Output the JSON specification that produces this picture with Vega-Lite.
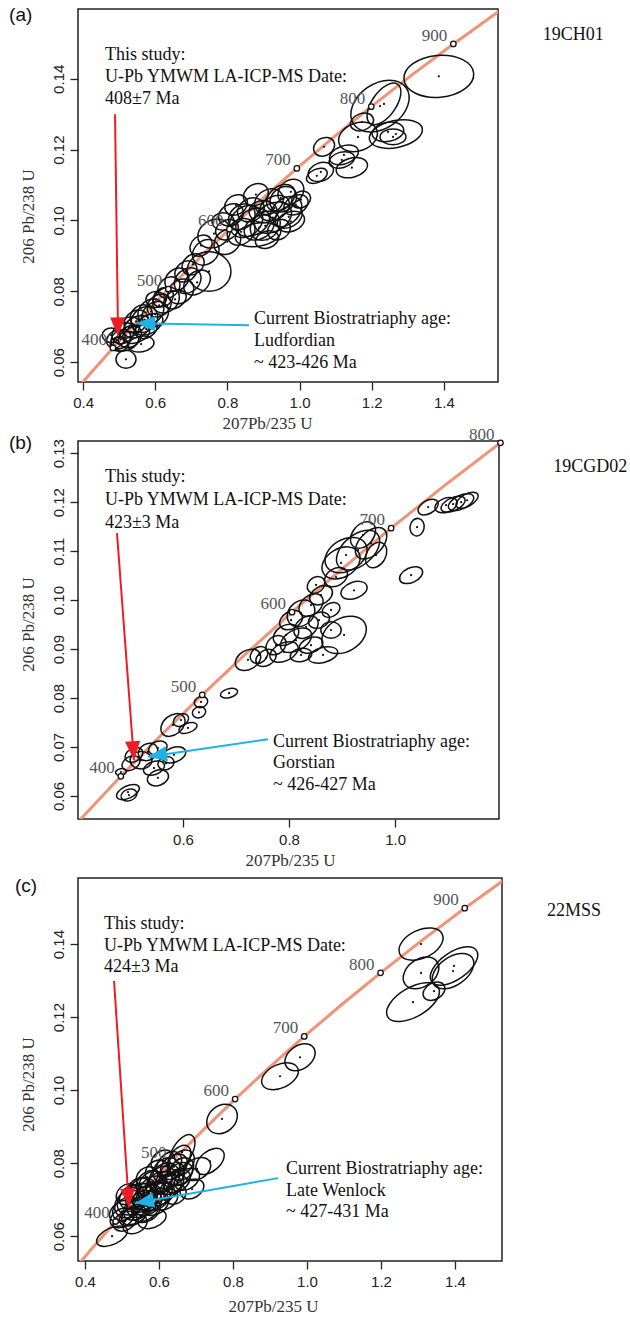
{
"$schema": "https://vega.github.io/schema/vega-lite/v6.json",
"background": "white",
"padding": {"left": 8, "top": 5, "right": 0, "bottom": 0},
"bounds": "flush",
"spacing": 59,
"config": {
 "view": {"stroke": "#222", "strokeWidth": 1.5},
 "axis": {"domain": false, "grid": false, "tickSize": 8, "tickColor": "#222", "tickWidth": 1.3, "labelFont": "Liberation Sans", "labelFontSize": 15, "labelColor": "#222", "labelFlush": false, "labelOverlap": false, "labelBound": false, "titleFont": "Liberation Serif", "titleFontSize": 17, "titleFontWeight": "normal", "titleColor": "#333"},
 "axisX": {"labelPadding": 5, "titleBaseline": "top", "titleAlign": "center"},
 "axisY": {"labelPadding": 4, "labelAngle": -90, "labelAlign": "center", "labelBaseline": "bottom", "titleAngle": -90, "titleAlign": "center", "titleBaseline": "bottom"}
},
"datasets": {
 "conc": [
  {"age": 300, "x": 0.34374, "y": 0.04764},
  {"age": 350, "x": 0.41156, "y": 0.05580},
  {"age": 400, "x": 0.48281, "y": 0.06402},
  {"age": 450, "x": 0.55766, "y": 0.07230},
  {"age": 500, "x": 0.63628, "y": 0.08065},
  {"age": 550, "x": 0.71887, "y": 0.08906},
  {"age": 600, "x": 0.80563, "y": 0.09754},
  {"age": 650, "x": 0.89677, "y": 0.10609},
  {"age": 700, "x": 0.99251, "y": 0.11470},
  {"age": 750, "x": 1.09308, "y": 0.12338},
  {"age": 800, "x": 1.19873, "y": 0.13213},
  {"age": 850, "x": 1.30971, "y": 0.14095},
  {"age": 900, "x": 1.42630, "y": 0.14983},
  {"age": 950, "x": 1.54876, "y": 0.15879},
  {"age": 1000, "x": 1.67741, "y": 0.16781}
 ],
 "ea": [
  {"x": 1.386, "y": 0.1407, "a": 0.097, "r": "0.6", "ang": 175},
  {"x": 1.223, "y": 0.1323, "a": 0.0886, "r": "0.7", "ang": 145},
  {"x": 1.234, "y": 0.1329, "a": 0.0665, "r": "0.5", "ang": 125},
  {"x": 1.173, "y": 0.1278, "a": 0.0332, "r": "0.7", "ang": 160},
  {"x": 1.162, "y": 0.1236, "a": 0.0554, "r": "0.7", "ang": 160},
  {"x": 1.267, "y": 0.1244, "a": 0.0748, "r": "0.5", "ang": 168},
  {"x": 1.245, "y": 0.125, "a": 0.0443, "r": "0.6", "ang": 170},
  {"x": 1.259, "y": 0.1236, "a": 0.036, "r": "0.6", "ang": 0},
  {"x": 1.068, "y": 0.1208, "a": 0.0305, "r": "0.8", "ang": 150},
  {"x": 1.123, "y": 0.1185, "a": 0.0416, "r": "0.6", "ang": 160},
  {"x": 1.117, "y": 0.1171, "a": 0.036, "r": "0.6", "ang": 165},
  {"x": 1.145, "y": 0.1149, "a": 0.0443, "r": "0.6", "ang": 165},
  {"x": 1.059, "y": 0.1137, "a": 0.036, "r": "0.7", "ang": 160},
  {"x": 1.048, "y": 0.1126, "a": 0.0305, "r": "0.6", "ang": 155},
  {"x": 0.976, "y": 0.1081, "a": 0.0388, "r": "0.8", "ang": 140},
  {"x": 0.948, "y": 0.1064, "a": 0.0443, "r": "0.7", "ang": 140},
  {"x": 0.915, "y": 0.1053, "a": 0.0416, "r": "0.8", "ang": 150},
  {"x": 0.99, "y": 0.1044, "a": 0.036, "r": "0.7", "ang": 150},
  {"x": 0.962, "y": 0.1025, "a": 0.0499, "r": "0.7", "ang": 140},
  {"x": 0.899, "y": 0.1025, "a": 0.0388, "r": "0.8", "ang": 0},
  {"x": 0.926, "y": 0.1008, "a": 0.0554, "r": "0.7", "ang": 150},
  {"x": 0.865, "y": 0.103, "a": 0.0388, "r": "0.8", "ang": 150},
  {"x": 0.852, "y": 0.0997, "a": 0.0499, "r": "0.8", "ang": 140},
  {"x": 0.888, "y": 0.098, "a": 0.0443, "r": "0.7", "ang": 150},
  {"x": 0.976, "y": 0.0997, "a": 0.0388, "r": "0.7", "ang": 160},
  {"x": 0.885, "y": 0.096, "a": 0.0637, "r": "0.5", "ang": 170},
  {"x": 0.838, "y": 0.0968, "a": 0.0416, "r": "0.8", "ang": 140},
  {"x": 0.81, "y": 0.1016, "a": 0.036, "r": "0.8", "ang": 150},
  {"x": 0.799, "y": 0.0974, "a": 0.0332, "r": "0.8", "ang": 150},
  {"x": 0.763, "y": 0.0963, "a": 0.0471, "r": "0.8", "ang": 150},
  {"x": 0.788, "y": 0.0997, "a": 0.0305, "r": "0.8", "ang": 0},
  {"x": 0.943, "y": 0.0974, "a": 0.0332, "r": "0.8", "ang": 150},
  {"x": 1.004, "y": 0.1059, "a": 0.0277, "r": "0.8", "ang": 150},
  {"x": 0.91, "y": 0.0946, "a": 0.0332, "r": "0.7", "ang": 160},
  {"x": 0.727, "y": 0.0929, "a": 0.0332, "r": "0.8", "ang": 140},
  {"x": 0.749, "y": 0.0856, "a": 0.0609, "r": "0.9", "ang": 0},
  {"x": 0.705, "y": 0.0876, "a": 0.0332, "r": "0.8", "ang": 140},
  {"x": 0.685, "y": 0.0856, "a": 0.0332, "r": "0.8", "ang": 140},
  {"x": 0.66, "y": 0.0833, "a": 0.036, "r": "0.8", "ang": 140},
  {"x": 0.716, "y": 0.0825, "a": 0.0416, "r": "0.7", "ang": 140},
  {"x": 0.638, "y": 0.0811, "a": 0.0332, "r": "0.8", "ang": 140},
  {"x": 0.671, "y": 0.08, "a": 0.0388, "r": "0.8", "ang": 140},
  {"x": 0.622, "y": 0.0783, "a": 0.0305, "r": "0.8", "ang": 140},
  {"x": 0.655, "y": 0.0777, "a": 0.0332, "r": "0.7", "ang": 150},
  {"x": 0.611, "y": 0.076, "a": 0.036, "r": "0.8", "ang": 140},
  {"x": 0.588, "y": 0.0743, "a": 0.0388, "r": "0.8", "ang": 140},
  {"x": 0.561, "y": 0.0732, "a": 0.0332, "r": "0.8", "ang": 140},
  {"x": 0.547, "y": 0.0715, "a": 0.036, "r": "0.8", "ang": 140},
  {"x": 0.583, "y": 0.0707, "a": 0.0416, "r": "0.6", "ang": 150},
  {"x": 0.527, "y": 0.0698, "a": 0.0332, "r": "0.8", "ang": 140},
  {"x": 0.511, "y": 0.0682, "a": 0.0332, "r": "0.8", "ang": 140},
  {"x": 0.547, "y": 0.0679, "a": 0.0388, "r": "0.6", "ang": 160},
  {"x": 0.491, "y": 0.0665, "a": 0.0277, "r": "0.8", "ang": 140},
  {"x": 0.519, "y": 0.0659, "a": 0.036, "r": "0.7", "ang": 160},
  {"x": 0.561, "y": 0.0651, "a": 0.036, "r": "0.6", "ang": 170},
  {"x": 0.519, "y": 0.0608, "a": 0.0277, "r": "0.9", "ang": 0},
  {"x": 0.5, "y": 0.0651, "a": 0.0249, "r": "0.8", "ang": 0},
  {"x": 0.602, "y": 0.0777, "a": 0.0277, "r": "0.8", "ang": 0},
  {"x": 0.824, "y": 0.1044, "a": 0.0332, "r": "0.8", "ang": 150},
  {"x": 0.879, "y": 0.1073, "a": 0.036, "r": "0.8", "ang": 150},
  {"x": 0.478, "y": 0.0676, "a": 0.0249, "r": "0.8", "ang": 0},
  {"x": 0.575, "y": 0.0693, "a": 0.0332, "r": "0.7", "ang": 150},
  {"x": 0.93, "y": 0.1035, "a": 0.045, "r": "0.7", "ang": 150},
  {"x": 0.955, "y": 0.106, "a": 0.04, "r": "0.8", "ang": 140},
  {"x": 0.87, "y": 0.0995, "a": 0.05, "r": "0.7", "ang": 150},
  {"x": 0.905, "y": 0.0985, "a": 0.045, "r": "0.8", "ang": 140},
  {"x": 0.84, "y": 0.101, "a": 0.04, "r": "0.8", "ang": 140},
  {"x": 0.97, "y": 0.101, "a": 0.04, "r": "0.7", "ang": 150},
  {"x": 0.8, "y": 0.094, "a": 0.04, "r": "0.8", "ang": 140},
  {"x": 0.74, "y": 0.091, "a": 0.04, "r": "0.8", "ang": 140},
  {"x": 0.69, "y": 0.083, "a": 0.04, "r": "0.8", "ang": 140},
  {"x": 0.63, "y": 0.0775, "a": 0.04, "r": "0.8", "ang": 140},
  {"x": 0.6, "y": 0.0735, "a": 0.04, "r": "0.8", "ang": 140},
  {"x": 0.55, "y": 0.07, "a": 0.04, "r": "0.7", "ang": 150},
  {"x": 0.53, "y": 0.0672, "a": 0.035, "r": "0.8", "ang": 140},
  {"x": 0.505, "y": 0.0665, "a": 0.03, "r": "0.8", "ang": 140},
  {"x": 0.57, "y": 0.072, "a": 0.04, "r": "0.8", "ang": 140}
 ],
 "eb": [
  {"x": 1.1245, "y": 0.12, "a": 0.0377, "r": "0.5", "ang": 155},
  {"x": 1.1094, "y": 0.1196, "a": 0.0358, "r": "0.5", "ang": 155},
  {"x": 1.1358, "y": 0.1204, "a": 0.034, "r": "0.5", "ang": 150},
  {"x": 1.0962, "y": 0.1194, "a": 0.0321, "r": "0.6", "ang": 160},
  {"x": 1.0623, "y": 0.119, "a": 0.0302, "r": "0.6", "ang": 150},
  {"x": 1.0415, "y": 0.1149, "a": 0.0245, "r": "0.8", "ang": 100},
  {"x": 1.0302, "y": 0.1051, "a": 0.034, "r": "0.6", "ang": 155},
  {"x": 0.9302, "y": 0.1102, "a": 0.0698, "r": "0.6", "ang": 140},
  {"x": 0.9075, "y": 0.1092, "a": 0.0623, "r": "0.7", "ang": 150},
  {"x": 0.9547, "y": 0.1116, "a": 0.0528, "r": "0.6", "ang": 135},
  {"x": 0.8981, "y": 0.1076, "a": 0.0566, "r": "0.7", "ang": 150},
  {"x": 0.9642, "y": 0.1092, "a": 0.0377, "r": "0.7", "ang": 120},
  {"x": 0.9396, "y": 0.1133, "a": 0.0415, "r": "0.7", "ang": 130},
  {"x": 0.9226, "y": 0.102, "a": 0.0377, "r": "0.6", "ang": 160},
  {"x": 0.8887, "y": 0.1047, "a": 0.034, "r": "0.7", "ang": 150},
  {"x": 0.9038, "y": 0.0929, "a": 0.066, "r": "0.7", "ang": 150},
  {"x": 0.8604, "y": 0.101, "a": 0.034, "r": "0.7", "ang": 150},
  {"x": 0.8415, "y": 0.099, "a": 0.0377, "r": "0.7", "ang": 140},
  {"x": 0.8226, "y": 0.0973, "a": 0.0415, "r": "0.8", "ang": 140},
  {"x": 0.8038, "y": 0.0959, "a": 0.034, "r": "0.7", "ang": 150},
  {"x": 0.8566, "y": 0.0959, "a": 0.0302, "r": "0.7", "ang": 160},
  {"x": 0.8321, "y": 0.0945, "a": 0.0377, "r": "0.7", "ang": 140},
  {"x": 0.7943, "y": 0.0929, "a": 0.0377, "r": "0.7", "ang": 150},
  {"x": 0.8132, "y": 0.0918, "a": 0.0472, "r": "0.6", "ang": 150},
  {"x": 0.7755, "y": 0.0908, "a": 0.0302, "r": "0.8", "ang": 140},
  {"x": 0.8415, "y": 0.0908, "a": 0.034, "r": "0.6", "ang": 160},
  {"x": 0.8642, "y": 0.0888, "a": 0.0415, "r": "0.5", "ang": 165},
  {"x": 0.7906, "y": 0.0894, "a": 0.0415, "r": "0.6", "ang": 155},
  {"x": 0.7566, "y": 0.0882, "a": 0.0302, "r": "0.7", "ang": 150},
  {"x": 0.7226, "y": 0.0878, "a": 0.0377, "r": "0.7", "ang": 150},
  {"x": 0.7434, "y": 0.0888, "a": 0.0264, "r": "0.8", "ang": 140},
  {"x": 0.8226, "y": 0.0888, "a": 0.0302, "r": "0.6", "ang": 170},
  {"x": 0.8792, "y": 0.098, "a": 0.0264, "r": "0.7", "ang": 150},
  {"x": 0.8792, "y": 0.0939, "a": 0.0283, "r": "0.8", "ang": 0},
  {"x": 0.8509, "y": 0.1031, "a": 0.0264, "r": "0.8", "ang": 140},
  {"x": 0.6868, "y": 0.081, "a": 0.0245, "r": "0.5", "ang": 165},
  {"x": 0.634, "y": 0.0792, "a": 0.0189, "r": "0.8", "ang": 160},
  {"x": 0.6302, "y": 0.0771, "a": 0.0189, "r": "0.8", "ang": 160},
  {"x": 0.5811, "y": 0.0745, "a": 0.0377, "r": "0.7", "ang": 140},
  {"x": 0.6094, "y": 0.0739, "a": 0.0264, "r": "0.5", "ang": 160},
  {"x": 0.5962, "y": 0.0755, "a": 0.0226, "r": "0.7", "ang": 150},
  {"x": 0.5075, "y": 0.0684, "a": 0.0264, "r": "0.7", "ang": 150},
  {"x": 0.534, "y": 0.069, "a": 0.0283, "r": "0.8", "ang": 150},
  {"x": 0.5528, "y": 0.0698, "a": 0.0264, "r": "0.7", "ang": 160},
  {"x": 0.583, "y": 0.0684, "a": 0.034, "r": "0.6", "ang": 160},
  {"x": 0.5019, "y": 0.0667, "a": 0.0264, "r": "0.7", "ang": 150},
  {"x": 0.5453, "y": 0.0657, "a": 0.0302, "r": "0.6", "ang": 160},
  {"x": 0.5528, "y": 0.0637, "a": 0.0302, "r": "0.7", "ang": 160},
  {"x": 0.483, "y": 0.0649, "a": 0.0151, "r": "0.6", "ang": 170},
  {"x": 0.4962, "y": 0.0608, "a": 0.034, "r": "0.5", "ang": 155},
  {"x": 0.4981, "y": 0.0602, "a": 0.0226, "r": "0.7", "ang": 160},
  {"x": 0.5208, "y": 0.0673, "a": 0.0302, "r": "0.8", "ang": 0},
  {"x": 0.5679, "y": 0.0667, "a": 0.0226, "r": "0.8", "ang": 160}
 ],
 "ec": [
  {"x": 1.3081, "y": 0.14, "a": 0.0649, "r": "0.6", "ang": 155},
  {"x": 1.3081, "y": 0.1321, "a": 0.0541, "r": "0.7", "ang": 145},
  {"x": 1.3973, "y": 0.134, "a": 0.0757, "r": "0.5", "ang": 145},
  {"x": 1.3946, "y": 0.1326, "a": 0.0649, "r": "0.6", "ang": 145},
  {"x": 1.3432, "y": 0.1271, "a": 0.0324, "r": "0.7", "ang": 150},
  {"x": 1.2865, "y": 0.1241, "a": 0.0811, "r": "0.5", "ang": 150},
  {"x": 0.927, "y": 0.1038, "a": 0.0541, "r": "0.6", "ang": 155},
  {"x": 0.9811, "y": 0.109, "a": 0.0459, "r": "0.7", "ang": 145},
  {"x": 0.7703, "y": 0.0921, "a": 0.0459, "r": "0.8", "ang": 140},
  {"x": 0.7378, "y": 0.0805, "a": 0.0459, "r": "0.6", "ang": 140},
  {"x": 0.6622, "y": 0.083, "a": 0.0541, "r": "0.5", "ang": 120},
  {"x": 0.7027, "y": 0.0784, "a": 0.0405, "r": "0.7", "ang": 150},
  {"x": 0.473, "y": 0.06, "a": 0.0459, "r": "0.5", "ang": 155},
  {"x": 0.5, "y": 0.0668, "a": 0.0378, "r": "0.7", "ang": 145},
  {"x": 0.5189, "y": 0.0688, "a": 0.0432, "r": "0.8", "ang": 140},
  {"x": 0.5081, "y": 0.0641, "a": 0.0351, "r": "0.7", "ang": 150},
  {"x": 0.5351, "y": 0.066, "a": 0.0405, "r": "0.6", "ang": 150},
  {"x": 0.527, "y": 0.0707, "a": 0.0378, "r": "0.8", "ang": 140},
  {"x": 0.5541, "y": 0.0688, "a": 0.0459, "r": "0.7", "ang": 145},
  {"x": 0.5459, "y": 0.0729, "a": 0.0351, "r": "0.8", "ang": 140},
  {"x": 0.5676, "y": 0.0707, "a": 0.0432, "r": "0.7", "ang": 145},
  {"x": 0.5811, "y": 0.0742, "a": 0.0405, "r": "0.8", "ang": 140},
  {"x": 0.5622, "y": 0.0666, "a": 0.0378, "r": "0.6", "ang": 155},
  {"x": 0.5946, "y": 0.0715, "a": 0.0459, "r": "0.7", "ang": 145},
  {"x": 0.6081, "y": 0.0756, "a": 0.0405, "r": "0.8", "ang": 140},
  {"x": 0.5892, "y": 0.0688, "a": 0.0405, "r": "0.7", "ang": 150},
  {"x": 0.6216, "y": 0.0734, "a": 0.0432, "r": "0.7", "ang": 145},
  {"x": 0.6351, "y": 0.077, "a": 0.0378, "r": "0.8", "ang": 140},
  {"x": 0.6162, "y": 0.0701, "a": 0.0378, "r": "0.7", "ang": 150},
  {"x": 0.6486, "y": 0.0751, "a": 0.0405, "r": "0.7", "ang": 145},
  {"x": 0.6622, "y": 0.0784, "a": 0.0351, "r": "0.8", "ang": 140},
  {"x": 0.6432, "y": 0.0715, "a": 0.0324, "r": "0.8", "ang": 150},
  {"x": 0.6757, "y": 0.0756, "a": 0.0378, "r": "0.7", "ang": 145},
  {"x": 0.5946, "y": 0.0778, "a": 0.0351, "r": "0.8", "ang": 140},
  {"x": 0.627, "y": 0.0797, "a": 0.0405, "r": "0.7", "ang": 135},
  {"x": 0.5676, "y": 0.0762, "a": 0.0324, "r": "0.8", "ang": 140},
  {"x": 0.5351, "y": 0.0633, "a": 0.0351, "r": "0.7", "ang": 155},
  {"x": 0.5811, "y": 0.0647, "a": 0.0405, "r": "0.6", "ang": 160},
  {"x": 0.5135, "y": 0.0715, "a": 0.0324, "r": "0.8", "ang": 140},
  {"x": 0.6541, "y": 0.0811, "a": 0.0432, "r": "0.6", "ang": 125},
  {"x": 0.6892, "y": 0.0729, "a": 0.0351, "r": "0.7", "ang": 150},
  {"x": 0.51, "y": 0.0675, "a": 0.04, "r": "0.7", "ang": 145},
  {"x": 0.525, "y": 0.0695, "a": 0.042, "r": "0.8", "ang": 140},
  {"x": 0.54, "y": 0.0675, "a": 0.04, "r": "0.7", "ang": 150},
  {"x": 0.555, "y": 0.0705, "a": 0.045, "r": "0.8", "ang": 140},
  {"x": 0.57, "y": 0.069, "a": 0.042, "r": "0.7", "ang": 145},
  {"x": 0.585, "y": 0.0725, "a": 0.045, "r": "0.8", "ang": 140},
  {"x": 0.6, "y": 0.0745, "a": 0.04, "r": "0.7", "ang": 145},
  {"x": 0.615, "y": 0.076, "a": 0.045, "r": "0.8", "ang": 140},
  {"x": 0.63, "y": 0.0745, "a": 0.04, "r": "0.7", "ang": 150},
  {"x": 0.605, "y": 0.0715, "a": 0.04, "r": "0.7", "ang": 150},
  {"x": 0.59, "y": 0.07, "a": 0.045, "r": "0.6", "ang": 150},
  {"x": 0.62, "y": 0.078, "a": 0.04, "r": "0.8", "ang": 140},
  {"x": 0.64, "y": 0.079, "a": 0.042, "r": "0.7", "ang": 140},
  {"x": 0.655, "y": 0.077, "a": 0.04, "r": "0.7", "ang": 145},
  {"x": 0.575, "y": 0.0745, "a": 0.04, "r": "0.8", "ang": 140},
  {"x": 0.555, "y": 0.0725, "a": 0.04, "r": "0.8", "ang": 140},
  {"x": 0.53, "y": 0.0655, "a": 0.04, "r": "0.6", "ang": 155},
  {"x": 0.565, "y": 0.067, "a": 0.042, "r": "0.7", "ang": 150},
  {"x": 0.545, "y": 0.071, "a": 0.04, "r": "0.8", "ang": 140},
  {"x": 0.5, "y": 0.065, "a": 0.035, "r": "0.7", "ang": 150},
  {"x": 0.66, "y": 0.08, "a": 0.042, "r": "0.7", "ang": 135},
  {"x": 0.61, "y": 0.0805, "a": 0.035, "r": "0.8", "ang": 140}
 ],
 "arrows": [
  {"p": "a", "kind": "study", "sx": 0.4886, "sy": 0.13, "x": 0.497, "y": 0.0673, "hang": 359},
  {"p": "a", "kind": "bio", "sx": 0.8598, "sy": 0.0704, "x": 0.5468, "y": 0.071, "hang": 91},
  {"p": "b", "kind": "study", "sx": 0.4755, "sy": 0.1137, "x": 0.5075, "y": 0.0673, "hang": 356},
  {"p": "b", "kind": "bio", "sx": 0.7604, "sy": 0.0716, "x": 0.534, "y": 0.068, "hang": 81},
  {"p": "c", "kind": "study", "sx": 0.4784, "sy": 0.1299, "x": 0.5189, "y": 0.0679, "hang": 356},
  {"p": "c", "kind": "bio", "sx": 0.9216, "sy": 0.0759, "x": 0.5351, "y": 0.069, "hang": 80}
 ],
 "notes": [
  {"p": "a", "x": 0.461, "y": 0.1466, "t": "This study:"},
  {"p": "a", "x": 0.461, "y": 0.1405, "t": "U-Pb YMWM LA-ICP-MS Date:"},
  {"p": "a", "x": 0.461, "y": 0.1343, "t": "408±7 Ma"},
  {"p": "a", "x": 0.8737, "y": 0.0721, "t": "Current Biostratriaphy age:"},
  {"p": "a", "x": 0.8737, "y": 0.0659, "t": "Ludfordian"},
  {"p": "a", "x": 0.8737, "y": 0.0597, "t": "~ 423-426 Ma"},
  {"p": "a", "x": 1.6742, "y": 0.1523, "t": "19CH01"},
  {"p": "b", "x": 0.4528, "y": 0.1251, "t": "This study:"},
  {"p": "b", "x": 0.4528, "y": 0.1204, "t": "U-Pb YMWM LA-ICP-MS Date:"},
  {"p": "b", "x": 0.4528, "y": 0.1157, "t": "423±3 Ma"},
  {"p": "b", "x": 0.7698, "y": 0.071, "t": "Current Biostratriaphy age:"},
  {"p": "b", "x": 0.7698, "y": 0.0667, "t": "Gorstian"},
  {"p": "b", "x": 0.7698, "y": 0.0622, "t": "~ 426-427 Ma"},
  {"p": "b", "x": 1.2981, "y": 0.1271, "t": "19CGD02"},
  {"p": "c", "x": 0.4514, "y": 0.1455, "t": "This study:"},
  {"p": "c", "x": 0.4514, "y": 0.1395, "t": "U-Pb YMWM LA-ICP-MS Date:"},
  {"p": "c", "x": 0.4514, "y": 0.1337, "t": "424±3 Ma"},
  {"p": "c", "x": 0.9432, "y": 0.0784, "t": "Current Biostratriaphy age:"},
  {"p": "c", "x": 0.9432, "y": 0.0723, "t": "Late Wenlock"},
  {"p": "c", "x": 0.9432, "y": 0.0666, "t": "~ 427-431 Ma"},
  {"p": "c", "x": 1.6486, "y": 0.149, "t": "22MSS"}
 ],
 "plabs": [
  {"p": "a", "x": 0.195, "y": 0.1579, "t": "(a)"},
  {"p": "b", "x": 0.2717, "y": 0.132, "t": "(b)"},
  {"p": "c", "x": 0.2108, "y": 0.1559, "t": "(c)"}
 ]
},
"vconcat": [
 {
  "width": 420, "height": 373,
  "encoding": {
   "x": {"field": "x", "type": "quantitative", "scale": {"domain": [0.386, 1.55], "nice": false, "zero": false}, "axis": {"title": "207Pb/235 U", "values": [0.4, 0.6, 0.8, 1.0, 1.2, 1.4], "format": ".1f", "titleX": 189, "titleY": 33}},
   "y": {"field": "y", "type": "quantitative", "scale": {"domain": [0.0544, 0.1597], "nice": false, "zero": false}, "axis": {"title": "206 Pb/238 U", "values": [0.06, 0.08, 0.1, 0.12, 0.14], "format": ".2f", "titleX": -41, "titleY": 207}}
  },
  "layer": [
   {"data": {"name": "conc"}, "mark": {"type": "line", "clip": true, "color": "#ef9476", "strokeWidth": 3}, "encoding": {}},
   {"data": {"name": "ea"}, "mark": {"type": "point", "filled": false, "color": "#111", "strokeWidth": 1.5, "opacity": 1},
    "encoding": {
     "shape": {"field": "r", "type": "nominal", "legend": null, "scale": {"domain": ["0.4", "0.5", "0.6", "0.7", "0.8", "0.9"], "range": [
      "M-1,0C-1,-0.2209,-0.5523,-0.4,0,-0.4C0.5523,-0.4,1,-0.2209,1,0C1,0.2209,0.5523,0.4,0,0.4C-0.5523,0.4,-1,0.2209,-1,0Z",
      "M-1,0C-1,-0.2762,-0.5523,-0.5,0,-0.5C0.5523,-0.5,1,-0.2762,1,0C1,0.2762,0.5523,0.5,0,0.5C-0.5523,0.5,-1,0.2762,-1,0Z",
      "M-1,0C-1,-0.3314,-0.5523,-0.6,0,-0.6C0.5523,-0.6,1,-0.3314,1,0C1,0.3314,0.5523,0.6,0,0.6C-0.5523,0.6,-1,0.3314,-1,0Z",
      "M-1,0C-1,-0.3866,-0.5523,-0.7,0,-0.7C0.5523,-0.7,1,-0.3866,1,0C1,0.3866,0.5523,0.7,0,0.7C-0.5523,0.7,-1,0.3866,-1,0Z",
      "M-1,0C-1,-0.4418,-0.5523,-0.8,0,-0.8C0.5523,-0.8,1,-0.4418,1,0C1,0.4418,0.5523,0.8,0,0.8C-0.5523,0.8,-1,0.4418,-1,0Z",
      "M-1,0C-1,-0.4971,-0.5523,-0.9,0,-0.9C0.5523,-0.9,1,-0.4971,1,0C1,0.4971,0.5523,0.9,0,0.9C-0.5523,0.9,-1,0.4971,-1,0Z"]}},
     "size": {"field": "a", "type": "quantitative", "legend": null, "scale": {"type": "pow", "exponent": 2, "domain": [0, 0.1], "range": [0, 5207]}},
     "angle": {"field": "ang", "type": "quantitative", "legend": null, "scale": {"domain": [0, 360], "range": [0, 360]}}
    }},
   {"data": {"name": "ea"}, "mark": {"type": "point", "filled": true, "color": "#111", "size": 5, "opacity": 1, "shape": "circle", "strokeWidth": 0}, "encoding": {}},
   {"data": {"name": "conc"}, "transform": [{"filter": {"field": "age", "oneOf": [400, 500, 600, 700, 800, 900]}}], "mark": {"type": "point", "filled": true, "fill": "white", "stroke": "#111", "strokeWidth": 1.3, "size": 30, "opacity": 1, "shape": "circle"}, "encoding": {}},
   {"data": {"name": "conc"}, "transform": [{"filter": {"field": "age", "oneOf": [400, 500, 600, 700, 800, 900]}}], "mark": {"type": "text", "align": "right", "baseline": "middle", "dx": -6, "dy": -8, "font": "Liberation Serif", "fontSize": 17, "color": "#555"}, "encoding": {"text": {"field": "age", "type": "nominal"}}},
   {"data": {"name": "arrows"}, "transform": [{"filter": "datum.p == 'a'"}], "mark": {"type": "rule", "strokeWidth": 2},
    "encoding": {"x2": {"field": "sx"}, "y2": {"field": "sy"}, "color": {"field": "kind", "type": "nominal", "legend": null, "scale": {"domain": ["study", "bio"], "range": ["#ee1d23", "#1fb2e8"]}}}},
   {"data": {"name": "arrows"}, "transform": [{"filter": "datum.p == 'a'"}], "mark": {"type": "point", "shape": "M0,0L-0.4,-1L0.4,-1Z", "filled": true, "size": 1444, "opacity": 1, "strokeWidth": 0},
    "encoding": {"angle": {"field": "hang", "type": "quantitative", "legend": null, "scale": {"domain": [0, 360], "range": [0, 360]}}, "color": {"field": "kind", "type": "nominal", "legend": null, "scale": {"domain": ["study", "bio"], "range": ["#ee1d23", "#1fb2e8"]}}}},
   {"data": {"name": "notes"}, "transform": [{"filter": "datum.p == 'a'"}], "mark": {"type": "text", "align": "left", "baseline": "middle", "font": "Liberation Serif", "fontSize": 18, "color": "#111"}, "encoding": {"text": {"field": "t"}}},
   {"data": {"name": "plabs"}, "transform": [{"filter": "datum.p == 'a'"}], "mark": {"type": "text", "align": "left", "baseline": "middle", "font": "Liberation Sans", "fontSize": 19, "color": "#111"}, "encoding": {"text": {"field": "t"}}}
  ]
 },
 {
  "width": 421, "height": 378,
  "encoding": {
   "x": {"field": "x", "type": "quantitative", "scale": {"domain": [0.402, 1.196], "nice": false, "zero": false}, "axis": {"title": "207Pb/235 U", "values": [0.6, 0.8, 1.0], "format": ".1f", "titleX": 212, "titleY": 33}},
   "y": {"field": "y", "type": "quantitative", "scale": {"domain": [0.0553, 0.1325], "nice": false, "zero": false}, "axis": {"title": "206 Pb/238 U", "values": [0.06, 0.07, 0.08, 0.09, 0.1, 0.11, 0.12, 0.13], "format": ".2f", "titleX": -41, "titleY": 183}}
  },
  "layer": [
   {"data": {"name": "conc"}, "mark": {"type": "line", "clip": true, "color": "#ef9476", "strokeWidth": 3}, "encoding": {}},
   {"data": {"name": "eb"}, "mark": {"type": "point", "filled": false, "color": "#111", "strokeWidth": 1.5, "opacity": 1},
    "encoding": {
     "shape": {"field": "r", "type": "nominal", "legend": null, "scale": {"domain": ["0.4", "0.5", "0.6", "0.7", "0.8", "0.9"], "range": [
      "M-1,0C-1,-0.2209,-0.5523,-0.4,0,-0.4C0.5523,-0.4,1,-0.2209,1,0C1,0.2209,0.5523,0.4,0,0.4C-0.5523,0.4,-1,0.2209,-1,0Z",
      "M-1,0C-1,-0.2762,-0.5523,-0.5,0,-0.5C0.5523,-0.5,1,-0.2762,1,0C1,0.2762,0.5523,0.5,0,0.5C-0.5523,0.5,-1,0.2762,-1,0Z",
      "M-1,0C-1,-0.3314,-0.5523,-0.6,0,-0.6C0.5523,-0.6,1,-0.3314,1,0C1,0.3314,0.5523,0.6,0,0.6C-0.5523,0.6,-1,0.3314,-1,0Z",
      "M-1,0C-1,-0.3866,-0.5523,-0.7,0,-0.7C0.5523,-0.7,1,-0.3866,1,0C1,0.3866,0.5523,0.7,0,0.7C-0.5523,0.7,-1,0.3866,-1,0Z",
      "M-1,0C-1,-0.4418,-0.5523,-0.8,0,-0.8C0.5523,-0.8,1,-0.4418,1,0C1,0.4418,0.5523,0.8,0,0.8C-0.5523,0.8,-1,0.4418,-1,0Z",
      "M-1,0C-1,-0.4971,-0.5523,-0.9,0,-0.9C0.5523,-0.9,1,-0.4971,1,0C1,0.4971,0.5523,0.9,0,0.9C-0.5523,0.9,-1,0.4971,-1,0Z"]}},
     "size": {"field": "a", "type": "quantitative", "legend": null, "scale": {"type": "pow", "exponent": 2, "domain": [0, 0.1], "range": [0, 11236]}},
     "angle": {"field": "ang", "type": "quantitative", "legend": null, "scale": {"domain": [0, 360], "range": [0, 360]}}
    }},
   {"data": {"name": "eb"}, "mark": {"type": "point", "filled": true, "color": "#111", "size": 5, "opacity": 1, "shape": "circle", "strokeWidth": 0}, "encoding": {}},
   {"data": {"name": "conc"}, "transform": [{"filter": {"field": "age", "oneOf": [400, 500, 600, 700, 800]}}], "mark": {"type": "point", "filled": true, "fill": "white", "stroke": "#111", "strokeWidth": 1.3, "size": 30, "opacity": 1, "shape": "circle"}, "encoding": {}},
   {"data": {"name": "conc"}, "transform": [{"filter": {"field": "age", "oneOf": [400, 500, 600, 700, 800]}}], "mark": {"type": "text", "align": "right", "baseline": "middle", "dx": -6, "dy": -8, "font": "Liberation Serif", "fontSize": 17, "color": "#555"}, "encoding": {"text": {"field": "age", "type": "nominal"}}},
   {"data": {"name": "arrows"}, "transform": [{"filter": "datum.p == 'b'"}], "mark": {"type": "rule", "strokeWidth": 2},
    "encoding": {"x2": {"field": "sx"}, "y2": {"field": "sy"}, "color": {"field": "kind", "type": "nominal", "legend": null, "scale": {"domain": ["study", "bio"], "range": ["#ee1d23", "#1fb2e8"]}}}},
   {"data": {"name": "arrows"}, "transform": [{"filter": "datum.p == 'b'"}], "mark": {"type": "point", "shape": "M0,0L-0.4,-1L0.4,-1Z", "filled": true, "size": 1444, "opacity": 1, "strokeWidth": 0},
    "encoding": {"angle": {"field": "hang", "type": "quantitative", "legend": null, "scale": {"domain": [0, 360], "range": [0, 360]}}, "color": {"field": "kind", "type": "nominal", "legend": null, "scale": {"domain": ["study", "bio"], "range": ["#ee1d23", "#1fb2e8"]}}}},
   {"data": {"name": "notes"}, "transform": [{"filter": "datum.p == 'b'"}], "mark": {"type": "text", "align": "left", "baseline": "middle", "font": "Liberation Serif", "fontSize": 18, "color": "#111"}, "encoding": {"text": {"field": "t"}}},
   {"data": {"name": "plabs"}, "transform": [{"filter": "datum.p == 'b'"}], "mark": {"type": "text", "align": "left", "baseline": "middle", "font": "Liberation Sans", "fontSize": 19, "color": "#111"}, "encoding": {"text": {"field": "t"}}}
  ]
 },
 {
  "width": 424, "height": 383,
  "encoding": {
   "x": {"field": "x", "type": "quantitative", "scale": {"domain": [0.381, 1.527], "nice": false, "zero": false}, "axis": {"title": "207Pb/235 U", "values": [0.4, 0.6, 0.8, 1.0, 1.2, 1.4], "format": ".1f", "titleX": 195, "titleY": 37}},
   "y": {"field": "y", "type": "quantitative", "scale": {"domain": [0.0532, 0.1581], "nice": false, "zero": false}, "axis": {"title": "206 Pb/238 U", "values": [0.06, 0.08, 0.1, 0.12, 0.14], "format": ".2f", "titleX": -41, "titleY": 206}}
  },
  "layer": [
   {"data": {"name": "conc"}, "mark": {"type": "line", "clip": true, "color": "#ef9476", "strokeWidth": 3}, "encoding": {}},
   {"data": {"name": "ec"}, "mark": {"type": "point", "filled": false, "color": "#111", "strokeWidth": 1.5, "opacity": 1},
    "encoding": {
     "shape": {"field": "r", "type": "nominal", "legend": null, "scale": {"domain": ["0.4", "0.5", "0.6", "0.7", "0.8", "0.9"], "range": [
      "M-1,0C-1,-0.2209,-0.5523,-0.4,0,-0.4C0.5523,-0.4,1,-0.2209,1,0C1,0.2209,0.5523,0.4,0,0.4C-0.5523,0.4,-1,0.2209,-1,0Z",
      "M-1,0C-1,-0.2762,-0.5523,-0.5,0,-0.5C0.5523,-0.5,1,-0.2762,1,0C1,0.2762,0.5523,0.5,0,0.5C-0.5523,0.5,-1,0.2762,-1,0Z",
      "M-1,0C-1,-0.3314,-0.5523,-0.6,0,-0.6C0.5523,-0.6,1,-0.3314,1,0C1,0.3314,0.5523,0.6,0,0.6C-0.5523,0.6,-1,0.3314,-1,0Z",
      "M-1,0C-1,-0.3866,-0.5523,-0.7,0,-0.7C0.5523,-0.7,1,-0.3866,1,0C1,0.3866,0.5523,0.7,0,0.7C-0.5523,0.7,-1,0.3866,-1,0Z",
      "M-1,0C-1,-0.4418,-0.5523,-0.8,0,-0.8C0.5523,-0.8,1,-0.4418,1,0C1,0.4418,0.5523,0.8,0,0.8C-0.5523,0.8,-1,0.4418,-1,0Z",
      "M-1,0C-1,-0.4971,-0.5523,-0.9,0,-0.9C0.5523,-0.9,1,-0.4971,1,0C1,0.4971,0.5523,0.9,0,0.9C-0.5523,0.9,-1,0.4971,-1,0Z"]}},
     "size": {"field": "a", "type": "quantitative", "legend": null, "scale": {"type": "pow", "exponent": 2, "domain": [0, 0.1], "range": [0, 5476]}},
     "angle": {"field": "ang", "type": "quantitative", "legend": null, "scale": {"domain": [0, 360], "range": [0, 360]}}
    }},
   {"data": {"name": "ec"}, "mark": {"type": "point", "filled": true, "color": "#111", "size": 5, "opacity": 1, "shape": "circle", "strokeWidth": 0}, "encoding": {}},
   {"data": {"name": "conc"}, "transform": [{"filter": {"field": "age", "oneOf": [400, 500, 600, 700, 800, 900]}}], "mark": {"type": "point", "filled": true, "fill": "white", "stroke": "#111", "strokeWidth": 1.3, "size": 30, "opacity": 1, "shape": "circle"}, "encoding": {}},
   {"data": {"name": "conc"}, "transform": [{"filter": {"field": "age", "oneOf": [400, 500, 600, 700, 800, 900]}}], "mark": {"type": "text", "align": "right", "baseline": "middle", "dx": -6, "dy": -8, "font": "Liberation Serif", "fontSize": 17, "color": "#555"}, "encoding": {"text": {"field": "age", "type": "nominal"}}},
   {"data": {"name": "arrows"}, "transform": [{"filter": "datum.p == 'c'"}], "mark": {"type": "rule", "strokeWidth": 2},
    "encoding": {"x2": {"field": "sx"}, "y2": {"field": "sy"}, "color": {"field": "kind", "type": "nominal", "legend": null, "scale": {"domain": ["study", "bio"], "range": ["#ee1d23", "#1fb2e8"]}}}},
   {"data": {"name": "arrows"}, "transform": [{"filter": "datum.p == 'c'"}], "mark": {"type": "point", "shape": "M0,0L-0.4,-1L0.4,-1Z", "filled": true, "size": 1444, "opacity": 1, "strokeWidth": 0},
    "encoding": {"angle": {"field": "hang", "type": "quantitative", "legend": null, "scale": {"domain": [0, 360], "range": [0, 360]}}, "color": {"field": "kind", "type": "nominal", "legend": null, "scale": {"domain": ["study", "bio"], "range": ["#ee1d23", "#1fb2e8"]}}}},
   {"data": {"name": "notes"}, "transform": [{"filter": "datum.p == 'c'"}], "mark": {"type": "text", "align": "left", "baseline": "middle", "font": "Liberation Serif", "fontSize": 18, "color": "#111"}, "encoding": {"text": {"field": "t"}}},
   {"data": {"name": "plabs"}, "transform": [{"filter": "datum.p == 'c'"}], "mark": {"type": "text", "align": "left", "baseline": "middle", "font": "Liberation Sans", "fontSize": 19, "color": "#111"}, "encoding": {"text": {"field": "t"}}}
  ]
 }
]
}
